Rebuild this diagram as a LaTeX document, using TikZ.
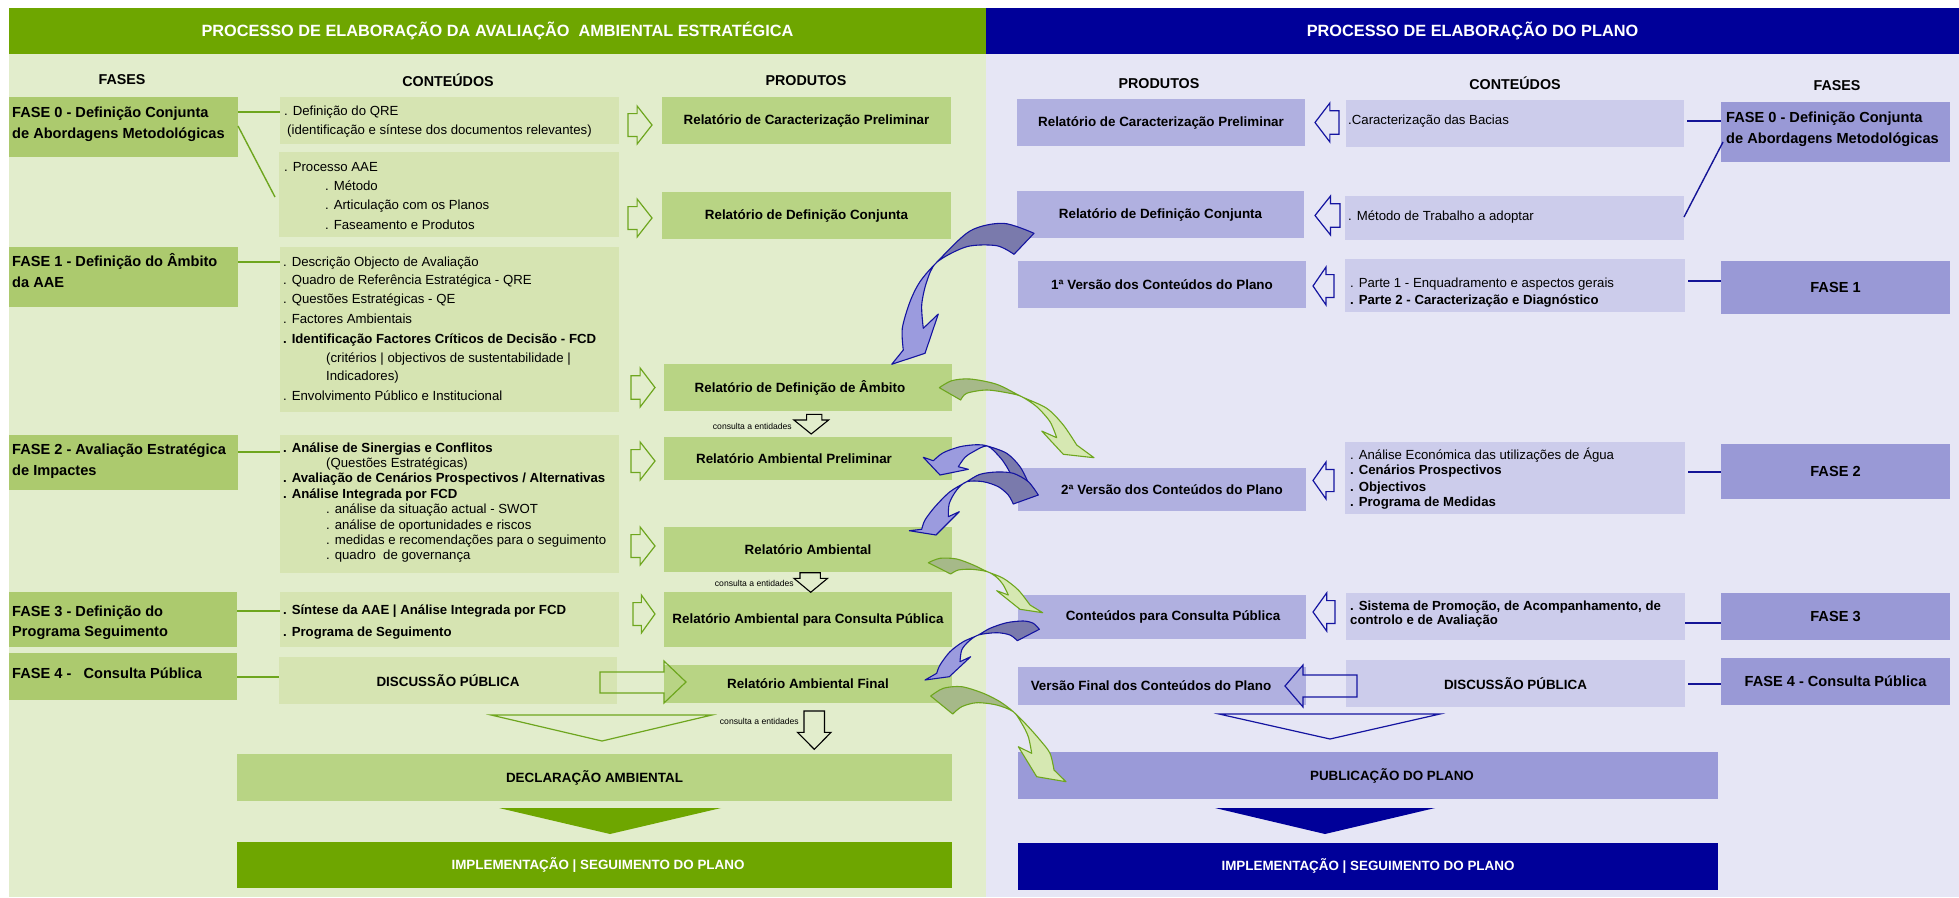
\documentclass[tikz,border=0pt]{standalone}
\usepackage{fontspec}
\setmainfont{Liberation Sans}
\definecolor{hdrgreen}{RGB}{110,166,0}
\definecolor{bggreen}{RGB}{226,237,204}
\definecolor{fasegreen}{RGB}{172,202,110}
\definecolor{prodgreen}{RGB}{184,212,132}
\definecolor{contgreen}{RGB}{214,228,178}
\definecolor{linegreen}{RGB}{110,166,30}
\definecolor{hdrblue}{RGB}{0,0,153}
\definecolor{bgblue}{RGB}{230,230,245}
\definecolor{faseblue}{RGB}{153,153,214}
\definecolor{prodblue}{RGB}{176,176,224}
\definecolor{contblue}{RGB}{204,204,235}
\definecolor{pubblue}{RGB}{154,154,216}
\definecolor{lineblue}{RGB}{20,20,150}
\definecolor{arrdblue}{RGB}{122,122,172}
\definecolor{arrlblue}{RGB}{155,155,222}
\definecolor{arroblue}{RGB}{20,20,160}
\definecolor{arrdgreen}{RGB}{166,185,137}
\definecolor{arrlgreen}{RGB}{214,232,178}
\newcommand\myhead{\fontsize{16.3}{19}\selectfont\bfseries}
\newcommand\mycol{\fontsize{14.3}{17}\selectfont\bfseries}
\newcommand\myfase{\fontsize{14.6}{17}\selectfont\bfseries}
\newcommand\myprod{\fontsize{13.4}{16}\selectfont\bfseries}
\newcommand\mycont{\fontsize{13.2}{16}\selectfont}
\newcommand\mysmall{\fontsize{8.6}{10}\selectfont}
\newcommand\bx[7]{\node[#6, minimum width={(#4-#2)*1pt}, minimum height={(#5-#3)*1pt}] (#1) at ({(#2+#4)/2},{(#3+#5)/2}) {#7};}
\newcommand\rarr[5]{\draw[#5] (#1,{#2+0.2*(#4-#2)}) -- ({#1+0.38*(#3-#1)},{#2+0.2*(#4-#2)}) -- ({#1+0.38*(#3-#1)},#2) -- (#3,{(#2+#4)/2}) -- ({#1+0.38*(#3-#1)},#4) -- ({#1+0.38*(#3-#1)},{#2+0.8*(#4-#2)}) -- (#1,{#2+0.8*(#4-#2)}) -- cycle;}
\newcommand\larr[5]{\draw[#5] (#3,{#2+0.2*(#4-#2)}) -- ({#3-0.38*(#3-#1)},{#2+0.2*(#4-#2)}) -- ({#3-0.38*(#3-#1)},#2) -- (#1,{(#2+#4)/2}) -- ({#3-0.38*(#3-#1)},#4) -- ({#3-0.38*(#3-#1)},{#2+0.8*(#4-#2)}) -- (#3,{#2+0.8*(#4-#2)}) -- cycle;}
\newcommand\twist[5]{\fill[#3] #1; \begin{scope}\clip #5; \fill[#2] #1; \end{scope} \draw[#4, line width=1.1pt, line join=round] #1;}
\tikzset{
 boxs/.style={inner sep=0pt, outer sep=0pt, draw=none, align=center},
 cl/.style={anchor=base west, inner sep=0pt, font=\mycont},
 clb/.style={anchor=base west, inner sep=0pt, font=\mycont\bfseries},
 fl/.style={anchor=base west, inner sep=0pt, font=\myfase},
 gline/.style={draw=linegreen, line width=2pt},
 bline/.style={draw=lineblue, line width=2pt},
 garr/.style={draw=linegreen, line width=1.2pt, line join=miter},
 barr/.style={draw=arroblue, line width=1.2pt, line join=miter},
 karr/.style={draw=black, line width=1.1pt, line join=miter},
 smt/.style={anchor=base east, inner sep=0pt, font=\mysmall},
}
\begin{document}
\begin{tikzpicture}[x=1pt,y=-1pt]
\useasboundingbox (0,0) rectangle (1959,897);
\fill[white] (0,0) rectangle (1959,897);
% backgrounds and headers
\bx{bgl}{9}{54}{986}{897}{boxs,fill=bggreen}{}
\bx{bgr}{986}{54}{1959}{897}{boxs,fill=bgblue}{}
\bx{hl}{9}{8}{986}{54}{boxs,fill=hdrgreen,text=white,font=\myhead}{PROCESSO DE ELABORAÇÃO DA AVALIAÇÃO\ \ AMBIENTAL ESTRATÉGICA}
\bx{hr}{986}{8}{1959}{54}{boxs,fill=hdrblue,text=white,font=\myhead}{PROCESSO DE ELABORAÇÃO DO PLANO}
% column headings
\node[font=\mycol] (hfl) at (122,80) {FASES};
\node[font=\mycol] (hcl) at (448,80) {CONTEÚDOS};
\node[font=\mycol] (hpl) at (806,81) {PRODUTOS};
\node[font=\mycol] (hpr) at (1159,84) {PRODUTOS};
\node[font=\mycol] (hcr) at (1515,83) {CONTEÚDOS};
\node[font=\mycol] (hfr) at (1837,86) {FASES};
% ---------------- left: fases
\bx{f0}{9}{97}{238}{157}{boxs,fill=fasegreen}{}
\node[fl] (f0a) at (12,117) {FASE 0 - Definição Conjunta};
\node[fl] (f0b) at (12,138) {de Abordagens Metodológicas};
\bx{f1}{9}{247}{238}{307}{boxs,fill=fasegreen}{}
\node[fl] (f1a) at (12,266) {FASE 1 - Definição do Âmbito};
\node[fl] (f1b) at (12,287) {da AAE};
\bx{f2}{9}{435}{238}{490}{boxs,fill=fasegreen}{}
\node[fl] (f2a) at (12,454) {FASE 2 - Avaliação Estratégica};
\node[fl] (f2b) at (12,475) {de Impactes};
\bx{f3}{9}{592}{237}{647}{boxs,fill=fasegreen}{}
\node[fl] (f3a) at (12,616) {FASE 3 - Definição do};
\node[fl] (f3b) at (12,636) {Programa Seguimento};
\bx{f4}{9}{653}{237}{700}{boxs,fill=fasegreen}{}
\node[fl] (f4a) at (12,678) {FASE 4 -\ \ \ Consulta Pública};
% ---------------- left: conteudos
\bx{c1}{280}{97}{619}{144}{boxs,fill=contgreen}{}
\node[cl] (c1a) at (284,115) {. Definição do QRE};
\node[cl] (c1b) at (287,134) {(identificação e síntese dos documentos relevantes)};
\bx{c2}{279}{152}{619}{237}{boxs,fill=contgreen}{}
\node[cl] (c2a) at (284,171) {. Processo AAE};
\node[cl] (c2b) at (325,190) {. Método};
\node[cl] (c2c) at (325,209) {. Articulação com os Planos};
\node[cl] (c2d) at (325,229) {. Faseamento e Produtos};
\bx{c3}{280}{247}{619}{412}{boxs,fill=contgreen}{}
\node[cl] (c3a) at (283,266) {. Descrição Objecto de Avaliação};
\node[cl] (c3b) at (283,284) {. Quadro de Referência Estratégica - QRE};
\node[cl] (c3c) at (283,303) {. Questões Estratégicas - QE};
\node[cl] (c3d) at (283,323) {. Factores Ambientais};
\node[clb] (c3e) at (283,343) {. Identificação Factores Críticos de Decisão - FCD};
\node[cl] (c3f) at (326,362) {(critérios | objectivos de sustentabilidade |};
\node[cl] (c3g) at (326,380) {Indicadores)};
\node[cl] (c3h) at (283,400) {. Envolvimento Público e Institucional};
\bx{c4}{280}{435}{619}{573}{boxs,fill=contgreen}{}
\node[clb] (c4a) at (283,452) {. Análise de Sinergias e Conflitos};
\node[cl] (c4b) at (326,467) {(Questões Estratégicas)};
\node[clb] (c4c) at (283,482) {. Avaliação de Cenários Prospectivos / Alternativas};
\node[clb] (c4d) at (283,498) {. Análise Integrada por FCD};
\node[cl] (c4e) at (326,513) {. análise da situação actual - SWOT};
\node[cl] (c4f) at (326,529) {. análise de oportunidades e riscos};
\node[cl] (c4g) at (326,544) {. medidas e recomendações para o seguimento};
\node[cl] (c4h) at (326,559) {. quadro\ \ de governança};
\bx{c5}{280}{592}{619}{647}{boxs,fill=contgreen}{}
\node[clb] (c5a) at (283,614) {. Síntese da AAE | Análise Integrada por FCD};
\node[clb] (c5b) at (283,636) {. Programa de Seguimento};
\bx{c6}{279}{657}{617}{704}{boxs,fill=contgreen,font=\myprod}{DISCUSSÃO PÚBLICA}
% ---------------- left: produtos
\bx{p1}{662}{97}{951}{144}{boxs,fill=prodgreen,font=\myprod}{Relatório de Caracterização Preliminar}
\bx{p2}{662}{192}{951}{239}{boxs,fill=prodgreen,font=\myprod}{Relatório de Definição Conjunta}
\bx{p3}{664}{364}{952}{411}{boxs,fill=prodgreen,font=\myprod}{Relatório de Definição de Âmbito\hspace*{16pt}}
\bx{p4}{664}{437}{952}{480}{boxs,fill=prodgreen,font=\myprod}{Relatório Ambiental Preliminar\hspace*{28pt}}
\bx{p5}{664}{527}{952}{572}{boxs,fill=prodgreen,font=\myprod}{Relatório Ambiental}
\bx{p6}{664}{592}{952}{647}{boxs,fill=prodgreen,font=\myprod}{Relatório Ambiental para Consulta Pública}
\bx{p7}{664}{665}{952}{703}{boxs,fill=prodgreen,font=\myprod}{Relatório Ambiental Final}
\bx{dec}{237}{754}{952}{801}{boxs,fill=prodgreen,font=\myprod}{\rule{0pt}{12pt}DECLARAÇÃO AMBIENTAL}
\bx{impl}{237}{842}{952}{888}{boxs,fill=hdrgreen,text=white,font=\myprod}{\hspace*{7pt}\rule{0pt}{12pt}IMPLEMENTAÇÃO | SEGUIMENTO DO PLANO}
% ---------------- right: produtos
\bx{pr1}{1017}{99}{1305}{146}{boxs,fill=prodblue,font=\myprod}{Relatório de Caracterização Preliminar}
\bx{pr2}{1017}{191}{1304}{238}{boxs,fill=prodblue,font=\myprod}{Relatório de Definição Conjunta}
\bx{pr3}{1018}{261}{1306}{308}{boxs,fill=prodblue,font=\myprod}{1ª Versão dos Conteúdos do Plano}
\bx{pr4}{1018}{468}{1306}{511}{boxs,fill=prodblue,font=\myprod}{\hspace*{20pt}2ª Versão dos Conteúdos do Plano}
\bx{pr5}{1018}{595}{1306}{639}{boxs,fill=prodblue,font=\myprod}{\hspace*{22pt}Conteúdos para Consulta Pública}
\bx{pr6}{1018}{667}{1306}{705}{boxs,fill=prodblue,font=\myprod}{Versão Final dos Conteúdos do Plano\hspace*{22pt}}
\bx{pub}{1018}{752}{1718}{799}{boxs,fill=pubblue,font=\myprod}{\hspace*{48pt}PUBLICAÇÃO DO PLANO}
\bx{implr}{1018}{843}{1718}{890}{boxs,fill=hdrblue,text=white,font=\myprod}{IMPLEMENTAÇÃO | SEGUIMENTO DO PLANO}
% ---------------- right: conteudos
\bx{cr1}{1346}{100}{1684}{147}{boxs,fill=contblue}{}
\node[cl] (cr1a) at (1348,124) {.Caracterização das Bacias};
\bx{cr2}{1345}{196}{1684}{240}{boxs,fill=contblue}{}
\node[cl] (cr2a) at (1348,220) {. Método de Trabalho a adoptar};
\bx{cr3}{1345}{259}{1685}{312}{boxs,fill=contblue}{}
\node[cl] (cr3a) at (1350,287) {. Parte 1 - Enquadramento e aspectos gerais};
\node[clb] (cr3b) at (1350,304) {. Parte 2 - Caracterização e Diagnóstico};
\bx{cr4}{1345}{442}{1685}{514}{boxs,fill=contblue}{}
\node[cl] (cr4a) at (1350,459) {. Análise Económica das utilizações de Água};
\node[clb] (cr4b) at (1350,474) {. Cenários Prospectivos};
\node[clb] (cr4c) at (1350,491) {. Objectivos};
\node[clb] (cr4d) at (1350,506) {. Programa de Medidas};
\bx{cr5}{1346}{593}{1685}{640}{boxs,fill=contblue}{}
\node[clb] (cr5a) at (1350,610) {. Sistema de Promoção, de Acompanhamento, de};
\node[clb] (cr5b) at (1350,624) {controlo e de Avaliação};
\bx{cr6}{1346}{660}{1685}{707}{boxs,fill=contblue,font=\myprod}{DISCUSSÃO PÚBLICA}
% ---------------- right: fases
\bx{fr0}{1721}{102}{1950}{162}{boxs,fill=faseblue}{}
\node[fl] (fr0a) at (1726,122) {FASE 0 - Definição Conjunta};
\node[fl] (fr0b) at (1726,143) {de Abordagens Metodológicas};
\bx{fr1}{1721}{261}{1950}{314}{boxs,fill=faseblue,font=\myfase}{FASE 1}
\bx{fr2}{1721}{444}{1950}{499}{boxs,fill=faseblue,font=\myfase}{FASE 2}
\bx{fr3}{1721}{593}{1950}{640}{boxs,fill=faseblue,font=\myfase}{FASE 3}
\bx{fr4}{1721}{658}{1950}{705}{boxs,fill=faseblue,font=\myfase}{FASE 4 - Consulta Pública}
% ---------------- connectors (left)
\draw[gline] ([yshift=-15pt]f0.north east) -- ([yshift=-15pt]c1.north west);
\draw[gline, line width=1.4pt] ([yshift=-29pt]f0.north east) -- ([xshift=-4pt,yshift=-45pt]c2.north west);
\draw[gline] ([yshift=-15pt]f1.north east) -- ([yshift=-15pt]c3.north west);
\draw[gline] ([yshift=-17pt]f2.north east) -- ([yshift=-17pt]c4.north west);
\draw[gline] ([yshift=-19pt]f3.north east) -- ([yshift=-19pt]c5.north west);
\draw[gline] ([yshift=-24pt]f4.north east) -- ([yshift=-20pt]c6.north west);
% ---------------- connectors (right)
\draw[bline] ([xshift=3pt,yshift=-21pt]cr1.north east) -- ([yshift=-19pt]fr0.north west);
\draw[bline, line width=1.4pt] ([xshift=2pt,yshift=-40pt]fr0.north west) -- ([yshift=-21pt]cr2.north east);
\draw[bline] ([xshift=3pt,yshift=-22pt]cr3.north east) -- ([yshift=-20pt]fr1.north west);
\draw[bline] ([xshift=3pt,yshift=-30pt]cr4.north east) -- ([yshift=-28pt]fr2.north west);
\draw[bline] ([yshift=-30pt]cr5.north east) -- ([yshift=-30pt]fr3.north west);
\draw[bline] ([xshift=3pt,yshift=-24pt]cr6.north east) -- ([yshift=-26pt]fr4.north west);
% ---------------- small block arrows
\rarr{628}{106}{652}{144}{garr}
\rarr{628}{199}{652}{237}{garr}
\rarr{631}{368}{655}{407}{garr}
\rarr{631}{442}{655}{480}{garr}
\rarr{631}{527}{655}{565}{garr}
\rarr{633}{595}{655}{633}{garr}
\larr{1315}{103}{1339}{142}{barr}
\larr{1315}{196}{1340}{235}{barr}
\larr{1313}{267}{1334}{305}{barr}
\larr{1313}{462}{1334}{499}{barr}
\larr{1313}{593}{1335}{631}{barr}
% big block arrows
\draw[garr] (600,672) -- (664,672) -- (664,661) -- (686,682) -- (664,703) -- (664,693) -- (600,693) -- cycle;
\draw[barr] (1357,675) -- (1303,675) -- (1303,665) -- (1285,686) -- (1303,707) -- (1303,697) -- (1357,697) -- cycle;
% consulta a entidades
\draw[karr] (806.6,414.3) -- (821.9,414.3) -- (821.9,420) -- (828.6,420) -- (811.2,434) -- (793.9,420) -- (806.6,420) -- cycle;
\node[smt] (ce1) at (792,429) {consulta a entidades};
\draw[karr] (800,572.7) -- (820.4,572.7) -- (820.4,578.3) -- (827.6,578.3) -- (810.7,592.3) -- (793.9,578.3) -- (800,578.3) -- cycle;
\node[smt] (ce2) at (794,586) {consulta a entidades};
\draw[karr] (804,711) -- (824.5,711) -- (824.5,732.3) -- (831.1,732.3) -- (814.3,749.3) -- (797.4,732.3) -- (804,732.3) -- cycle;
\node[smt] (ce3) at (799,724) {consulta a entidades};
% big triangles
\draw[draw=linegreen, line width=1.2pt] (491,715) -- (712,715) -- (602,741) -- cycle;
\fill[hdrgreen] (499,808) -- (721,808) -- (610,834) -- cycle;
\draw[draw=arroblue, line width=1.2pt] (1219,714) -- (1440,714) -- (1330,739) -- cycle;
\fill[hdrblue] (1215,808) -- (1435,808) -- (1325,834) -- cycle;
% ---------------- curved twisted arrows
\def\pA{plot[smooth] coordinates {(1034,233.3)(1003.3,223.3)(970,231)(936.7,262.3)(920,281.7)(910,301.7)(902.3,328.3)(903.3,350)} -- (891.7,364.3) -- (925,353.3) -- (938.3,314) -- (923.3,328.3) -- plot[smooth] coordinates {(923.3,328.3)(921.7,305)(926.7,281.7)(936.7,262.3)(966.7,246.7)(996.7,245.7)(1014,254.3)} -- cycle}
\twist{\pA}{arrdblue}{arrlblue}{arroblue}{(937,200) rectangle (1100,262.5)}
\def\pB{plot[smooth] coordinates {(939.3,387.7)(951.7,380.7)(970,379)(996.7,384.3)(1021.7,396.7)(1046.7,408.3)(1063.3,425)(1076.7,445)} -- (1094,457.7) -- (1063.3,454.3) -- (1041.7,431) -- (1056.7,437.7) -- plot[smooth] coordinates {(1056.7,437.7)(1050,421.7)(1036.7,406.7)(1021.7,396.7)(1010,393.3)(986.7,390)(966.7,393.3)(960.7,400)} -- cycle}
\twist{\pB}{arrdgreen}{arrlgreen}{linegreen}{(900,350) rectangle (1021.7,420)}
\def\pC{plot[smooth] coordinates {(1028.3,482.7)(1020,466.7)(1006.7,453.3)(987.3,446)(976.7,444.7)(960,446.7)(943.3,452.7)(933.3,460.7)} -- (923.3,457.3) -- (940,475) -- (968.3,469.3) -- (958.3,466.7) -- plot[smooth] coordinates {(958.3,466.7)(965,457.3)(973.3,451.7)(987.3,446)(1000,457.3)(1006.7,466.7)(1010,472.7)} -- cycle}
\twist{\pC}{arrdblue}{arrlblue}{arroblue}{(987.3,430) rectangle (1045,490)}
\def\pD{plot[smooth] coordinates {(1038.3,495)(1028.3,481.7)(1013.3,473.3)(996.7,472)(980,474.3)(966.7,481.7)(950,491.7)(935,506.7)(925,520)(921.7,529.3)} -- (909.3,530.7) -- (936,535) -- (959.3,511.7) -- (948.3,516.7) -- plot[smooth] coordinates {(948.3,516.7)(949.3,503.3)(956.7,490)(966.7,481.7)(983.3,481.7)(998.3,486.7)(1008.3,495)(1013.3,504)} -- cycle}
\twist{\pD}{arrdblue}{arrlblue}{arroblue}{(966.7,460) rectangle (1045,510)}
\def\pE{plot[smooth] coordinates {(928.3,562.7)(940,558.3)(956.7,559)(973.3,565)(987.3,571.7)(1003.3,578.3)(1018.3,590)(1030,605)} -- (1042.7,612.7) -- (1020,609.3) -- (996.7,590.7) -- (1008.3,595) -- plot[smooth] coordinates {(1008.3,595)(1003.3,585)(996.7,577.3)(987.3,571.7)(971.7,569.3)(958.3,570)(950.7,574)} -- cycle}
\twist{\pE}{arrdgreen}{arrlgreen}{linegreen}{(900,540) rectangle (987.3,580)}
\def\pF{plot[smooth] coordinates {(1039.3,629.3)(1033.3,623.3)(1023.3,621)(1006.7,622.7)(990,628.3)(978.3,635)(963.3,641.7)(950,651.7)(940,665)(936.7,673.3)} -- (925,680) -- (949.3,676.7) -- (970.7,656.7) -- (960,661.7) -- plot[smooth] coordinates {(960,661.7)(961.7,650)(968.3,641.7)(978.3,635)(996.7,632.7)(1010,635)(1017.3,640.7)} -- cycle}
\twist{\pF}{arrdblue}{arrlblue}{arroblue}{(978.3,610) rectangle (1045,645)}
\def\pG{plot[smooth] coordinates {(930.7,696)(943.3,688.3)(961.7,686.7)(983.3,693.3)(1000,701.7)(1013.3,711.7)(1026.7,725)(1040,740)(1050,753.3)(1054,770)} -- (1066,781.7) -- (1036.7,776.7) -- (1018.3,746.7) -- (1031.7,753.3) -- plot[smooth] coordinates {(1031.7,753.3)(1028.3,736.7)(1021.7,723.3)(1013.3,711.7)(996.7,705)(976.7,702.7)(961.7,706.7)(952.7,714)} -- cycle}
\twist{\pG}{arrdgreen}{arrlgreen}{linegreen}{(900,680) rectangle (1013.3,720)}
\end{tikzpicture}
\end{document}
